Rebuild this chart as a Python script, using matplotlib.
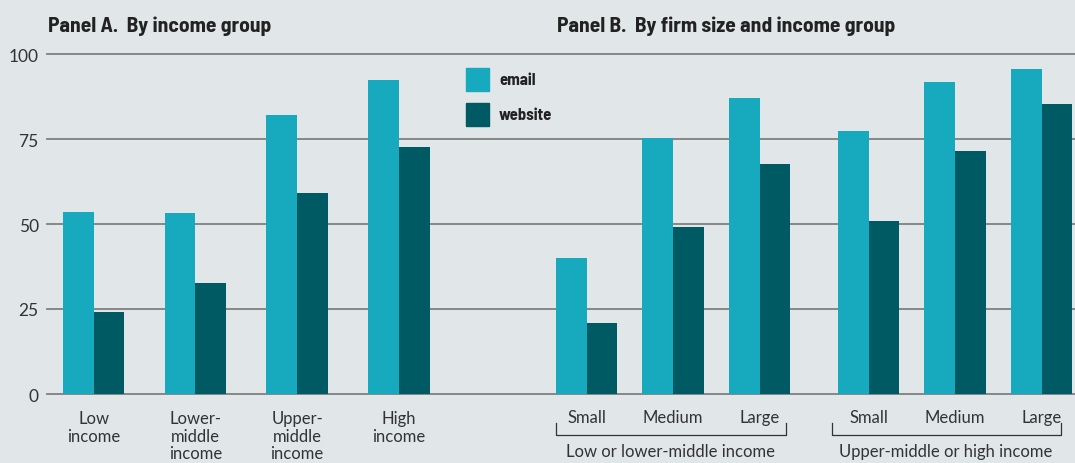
import numpy as np
import matplotlib.pyplot as plt
from matplotlib import font_manager

# data
income_groups = ["Low\nincome", "Lower-\nmiddle\nincome", "Upper-\nmiddle\nincome", "High\nincome"]
email_a = [53.5, 53.2, 82.1, 92.4]
website_a = [24.1, 32.6, 59.1, 72.6]

firm_sizes = ["Small", "Medium", "Large"]
income_pairs = ["Low or lower-middle income", "Upper-middle or high income"]
email_b = [40.0, 75.3, 87.1, 77.4, 91.8, 95.6]
website_b = [20.9, 49.1, 67.6, 50.9, 71.5, 85.3]

series = ["email", "website"]
yticks = [0, 25, 50, 75, 100]

BG = "#e1e6e8"
C_EMAIL = "#17a9bd"
C_WEB = "#005a63"
GRID = "#808080"
TXT = "#333333"

names = {f.name for f in font_manager.fontManager.ttflist}
light = "Lato" if "Lato" in names else "DejaVu Sans"
cond = next((n for n in ["Barlow Semi Condensed", "Barlow Condensed", "Asap Condensed"]
             if n in names), "DejaVu Sans")

fig = plt.figure(figsize=(10.75, 4.64), dpi=100, facecolor=BG)
W, H = 1075, 464
ax = fig.add_axes([47 / W, 1 - 395 / H, 1 - 47 / W, (395 - 55) / H])
ax.set_facecolor(BG)
ax.set_xlim(47, 1075)
ax.set_ylim(0, 100)

bw = 30.7
pos_a = 93.5 + 101.8 * np.arange(len(email_a))
pos_b = np.concatenate([586.5 + 86.6 * np.arange(3), 868.5 + 86.6 * np.arange(3)])

ax.bar(pos_a - bw / 2, email_a, bw, color=C_EMAIL, zorder=3)
ax.bar(pos_a + bw / 2, website_a, bw, color=C_WEB, zorder=3)
ax.bar(pos_b - bw / 2, email_b, bw, color=C_EMAIL, zorder=3)
ax.bar(pos_b + bw / 2, website_b, bw, color=C_WEB, zorder=3)

for y in yticks:
    ax.axhline(y, color=GRID, lw=1.3, zorder=1, clip_on=False)

for s in ax.spines.values():
    s.set_visible(False)
ax.set_xticks([])
ax.set_yticks(yticks)
ax.tick_params(axis="y", length=0, pad=6, labelsize=12.5, labelcolor=TXT)
for lab in ax.get_yticklabels():
    lab.set_fontfamily(light)

# x labels
for x, lab in zip(pos_a, income_groups):
    ax.text(x, -4.8, lab, ha="center", va="top", fontsize=12, color=TXT,
            family=light, linespacing=1.12)
for x, lab in zip(pos_b, firm_sizes * 2):
    ax.text(x, -4.5, lab, ha="center", va="top", fontsize=12, color=TXT, family=light)

# brackets under panel B groups
for k, lab in enumerate(income_pairs):
    c = pos_b[3 * k:3 * k + 3]
    x0, x1 = c[0] - 31 - 6 * k, c[-1] + 26 - 7 * k
    ax.plot([x0, x0, x1, x1], [-8.4, -12.2, -12.2, -8.4], color=TXT, lw=0.9,
            clip_on=False)
    ax.text((x0 + x1) / 2, -14.5, lab, ha="center", va="top", fontsize=12,
            color=TXT, family=light)

# panel titles
fig.text(48 / W, 1 - 32 / H, "Panel A.  By income group", fontsize=15.5, fontweight="bold",
         color="#222222", family=cond, va="baseline")
fig.text(557 / W, 1 - 32 / H, "Panel B.  By firm size and income group", fontsize=15.5,
         fontweight="bold", color="#222222", family=cond, va="baseline")

# legend
for i, (name, col) in enumerate(zip(series, [C_EMAIL, C_WEB])):
    y_top = 69 + 35 * i
    fig.patches.append(plt.Rectangle((466 / W, 1 - (y_top + 23) / H), 23 / W, 23 / H,
                                     transform=fig.transFigure, color=col, figure=fig))
    fig.text(499 / W, 1 - (y_top + 11.5) / H, name, fontsize=12, fontweight="bold",
             color="#222222", family=cond, va="center")

fig.savefig("out.png", dpi=100, facecolor=BG)
